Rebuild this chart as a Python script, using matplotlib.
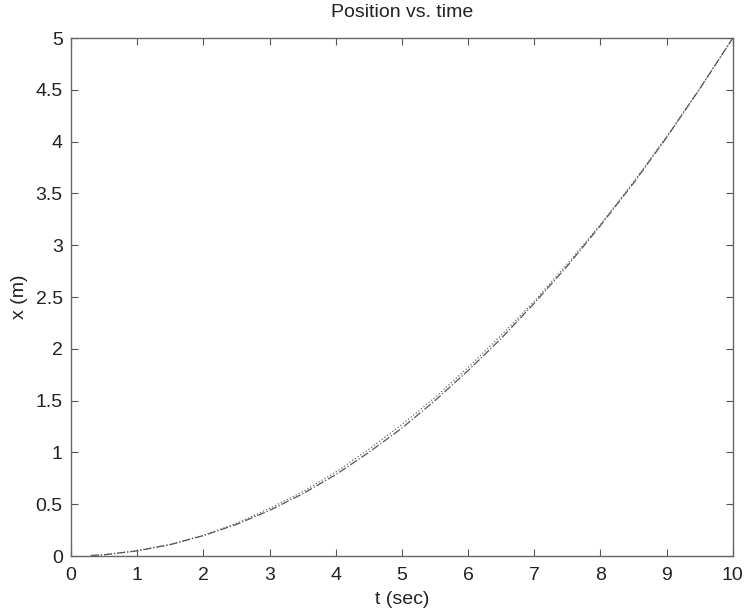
import matplotlib.pyplot as plt

plt.rcParams['font.family'] = ['Liberation Sans', 'DejaVu Sans']

# sampled time points (sec)
t = [0.3, 0.5, 1, 1.5, 2, 2.5, 3, 3.5, 4, 4.5, 5,
     5.5, 6, 6.5, 7, 7.5, 8, 8.5, 9, 9.5, 10]
# position from the two runs (m)
x_dotted = [0.0045, 0.0125, 0.05, 0.113, 0.2, 0.315, 0.46, 0.62, 0.81, 1.03, 1.27,
            1.53, 1.82, 2.13, 2.46, 2.82, 3.2, 3.61, 4.05, 4.51, 5.0]
x_dashdot = [0.0045, 0.0125, 0.05, 0.11, 0.197, 0.305, 0.44, 0.6, 0.785, 1.0, 1.235,
             1.5, 1.79, 2.1, 2.44, 2.8, 3.19, 3.6, 4.04, 4.51, 5.0]

fig = plt.figure(figsize=(7.44, 6.15), dpi=100)
ax = fig.add_axes([0.0954, 0.0959, 0.8896, 0.8423])

ax.plot(t, x_dotted, linestyle=':', color='#6a6a6a', linewidth=0.9)
ax.plot(t, x_dashdot, linestyle='-.', color='#555555', linewidth=0.9)

ax.set_xlim(0, 10)
ax.set_ylim(0, 5)
ax.set_xticks(range(0, 11))
ax.set_yticks([0, 0.5, 1, 1.5, 2, 2.5, 3, 3.5, 4, 4.5, 5])
ax.set_yticklabels(['0', '0.5', '1', '1.5', '2', '2.5', '3', '3.5', '4', '4.5', '5'])
ax.tick_params(axis='both', direction='in', top=True, right=True, length=5,
               labelsize=14, color='#555555', labelcolor='#222222')
ax.tick_params(axis='x', pad=8)
ax.tick_params(axis='y', pad=6)
for s in ax.spines.values():
    s.set_color('#666666')
    s.set_linewidth(1.0)

ax.set_title('Position vs. time', fontsize=14, color='#222222', pad=15)
ax.set_xlabel('t (sec)', fontsize=14, color='#222222', labelpad=5)
ax.set_ylabel('x (m)', fontsize=14, color='#222222', labelpad=5)

fig.savefig('out.png', dpi=100, facecolor='white')
